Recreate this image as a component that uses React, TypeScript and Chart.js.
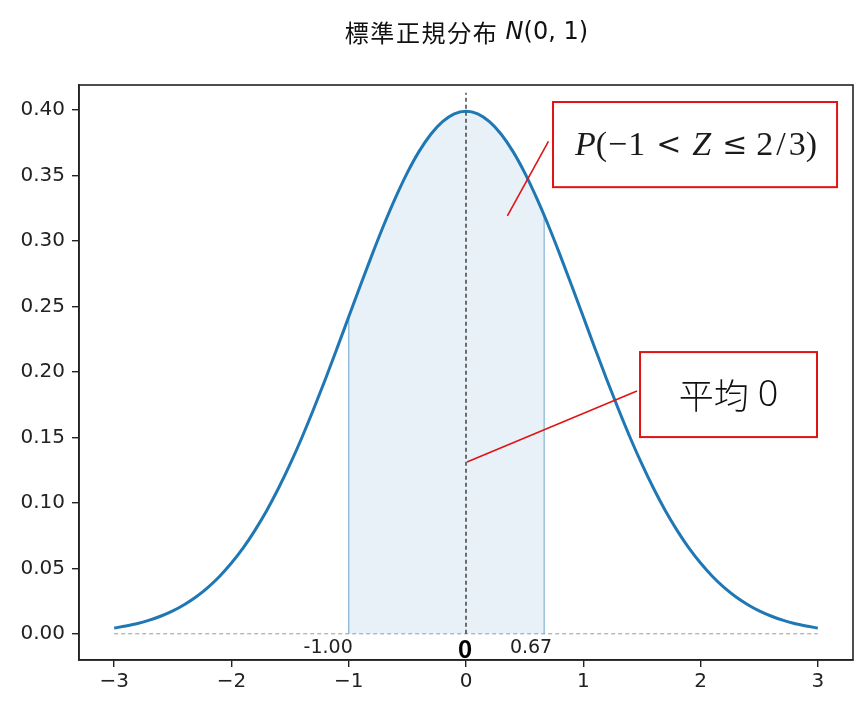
import React, { useEffect, useRef } from "react";
import { Chart, registerables } from "chart.js";

Chart.register(...registerables);

// Standard normal density at steps of 0.1
const curveX = [
  -3.0, -2.9, -2.8, -2.7, -2.6, -2.5, -2.4, -2.3, -2.2, -2.1,
  -2.0, -1.9, -1.8, -1.7, -1.6, -1.5, -1.4, -1.3, -1.2, -1.1,
  -1.0, -0.9, -0.8, -0.7, -0.6, -0.5, -0.4, -0.3, -0.2, -0.1,
  0.0, 0.1, 0.2, 0.3, 0.4, 0.5, 0.6, 0.7, 0.8, 0.9,
  1.0, 1.1, 1.2, 1.3, 1.4, 1.5, 1.6, 1.7, 1.8, 1.9,
  2.0, 2.1, 2.2, 2.3, 2.4, 2.5, 2.6, 2.7, 2.8, 2.9, 3.0,
];
const curveY = [
  0.0044, 0.0060, 0.0079, 0.0104, 0.0136, 0.0175, 0.0224, 0.0283, 0.0355, 0.0440,
  0.0540, 0.0656, 0.0790, 0.0940, 0.1109, 0.1295, 0.1497, 0.1714, 0.1942, 0.2179,
  0.2420, 0.2661, 0.2897, 0.3123, 0.3332, 0.3521, 0.3683, 0.3814, 0.3910, 0.3970,
  0.3989, 0.3970, 0.3910, 0.3814, 0.3683, 0.3521, 0.3332, 0.3123, 0.2897, 0.2661,
  0.2420, 0.2179, 0.1942, 0.1714, 0.1497, 0.1295, 0.1109, 0.0940, 0.0790, 0.0656,
  0.0540, 0.0440, 0.0355, 0.0283, 0.0224, 0.0175, 0.0136, 0.0104, 0.0079, 0.0060, 0.0044,
];

// Shaded interval P(-1 < Z <= 2/3)
const shadeX = [
  -1.0, -1.0, -0.9, -0.8, -0.7, -0.6, -0.5, -0.4, -0.3, -0.2, -0.1,
  0.0, 0.1, 0.2, 0.3, 0.4, 0.5, 0.6, 0.6667, 0.6667,
];
const shadeY = [
  0.0, 0.2420, 0.2661, 0.2897, 0.3123, 0.3332, 0.3521, 0.3683, 0.3814, 0.3910, 0.3970,
  0.3989, 0.3970, 0.3910, 0.3814, 0.3683, 0.3521, 0.3332, 0.3194, 0.0,
];

const baselineX = [-3, 3];
const baselineY = [0, 0];
const meanLineX = [0, 0];
const meanLineY = [0, 0.413];

const xTicks = [-3, -2, -1, 0, 1, 2, 3];
const yTicks = [0.0, 0.05, 0.1, 0.15, 0.2, 0.25, 0.3, 0.35, 0.4];

const boundLabels = ["-1.00", "0.67"];
const boundValues = [-1, 0.6667];

const titleParts = ["標準正規分布", "N", "(0, 1)"];
const meanLabel = "平均 0";

const zip = (xs: number[], ys: number[]) => xs.map((x, i) => ({ x, y: ys[i] }));

const RED = "#e01414";

const overlayPlugin = {
  id: "overlay",
  afterDraw(chart: any) {
    const { ctx, chartArea, scales } = chart;
    const xs = scales.x;
    const ys = scales.y;
    const px = (v: number) => xs.getPixelForValue(v);
    const py = (v: number) => ys.getPixelForValue(v);
    ctx.save();

    // frame
    ctx.strokeStyle = "#222";
    ctx.lineWidth = 1.6;
    ctx.strokeRect(chartArea.left, chartArea.top, chartArea.right - chartArea.left, chartArea.bottom - chartArea.top);

    // title
    const cx = (chartArea.left + chartArea.right) / 2;
    const fCjk = '24px "Noto Sans CJK JP", "DejaVu Sans", sans-serif';
    const fNorm = '24px "DejaVu Sans", sans-serif';
    const fIt = 'italic 24px "DejaVu Sans", sans-serif';
    const cjkStep = 25.6;
    const cjkW = cjkStep * titleParts[0].length;
    const gap = 8;
    ctx.font = fNorm;
    const w2 = ctx.measureText(titleParts[2]).width;
    ctx.font = fIt;
    const w1 = ctx.measureText(titleParts[1]).width;
    let tx = cx - (cjkW + gap + w1 + w2) / 2;
    ctx.fillStyle = "#111";
    ctx.textBaseline = "middle";
    ctx.textAlign = "center";
    ctx.font = fCjk;
    Array.from(titleParts[0]).forEach((ch, i) => {
      ctx.fillText(ch, tx + cjkStep * i + cjkStep / 2, 33);
    });
    tx += cjkW + gap;
    ctx.textAlign = "left";
    ctx.font = fIt;
    ctx.fillText(titleParts[1], tx, 33);
    tx += w1;
    ctx.font = fNorm;
    ctx.fillText(titleParts[2], tx, 33);

    // bound labels under the shaded region
    const y0 = py(0);
    ctx.fillStyle = "#222";
    ctx.font = '19px "DejaVu Sans", sans-serif';
    ctx.textAlign = "right";
    ctx.textBaseline = "middle";
    ctx.fillText(boundLabels[0], px(boundValues[0]) + 4, y0 + 14);
    ctx.fillText(boundLabels[1], px(boundValues[1]) + 8, y0 + 14);
    ctx.font = 'bold 24px "Noto Sans CJK JP", "DejaVu Sans", sans-serif';
    ctx.textAlign = "center";
    ctx.fillStyle = "#000";
    ctx.fillText("0", px(0) - 1, y0 + 15);

    // annotation 1: probability box
    ctx.strokeStyle = RED;
    ctx.lineWidth = 1.6;
    ctx.beginPath();
    ctx.moveTo(px(0.703), py(0.376));
    ctx.lineTo(px(0.353), py(0.319));
    ctx.stroke();
    ctx.lineWidth = 2;
    const b1x = px(0.742), b1y = py(0.406);
    const b1w = px(3.164) - b1x, b1h = py(0.341) - b1y;
    ctx.fillStyle = "#fff";
    ctx.fillRect(b1x, b1y, b1w, b1h);
    ctx.strokeRect(b1x, b1y, b1w, b1h);

    const rm = '34px "Liberation Serif", "DejaVu Serif", serif';
    const it = 'italic 34px "Liberation Serif", "DejaVu Serif", serif';
    const rel = '30px "DejaVu Serif", "Liberation Serif", serif';
    const parts = [
      { t: "P", f: it, g: 0 },
      { t: "(", f: rm, g: 1 },
      { t: "\u2212", f: rm, g: 1 },
      { t: "1", f: rm, g: 11 },
      { t: "<", f: rel, g: 11 },
      { t: "Z", f: it, g: 11 },
      { t: "\u2264", f: rel, g: 9 },
      { t: "2", f: rm, g: 3 },
      { t: "/", f: rm, g: 3 },
      { t: "3)", f: rm, g: 0 },
    ];
    let total = 0;
    const widths = parts.map((p) => {
      ctx.font = p.f;
      const w = ctx.measureText(p.t).width;
      total += w + p.g;
      return w;
    });
    let ax = b1x + b1w / 2 - total / 2 + 1;
    const ay = b1y + b1h / 2 + 1;
    ctx.fillStyle = "#1a1a1a";
    ctx.textAlign = "left";
    ctx.textBaseline = "middle";
    parts.forEach((p, i) => {
      ctx.font = p.f;
      ctx.fillText(p.t, ax, p.f === rel ? ay + 1 : ay);
      ax += widths[i] + p.g;
    });

    // annotation 2: mean box
    ctx.strokeStyle = RED;
    ctx.lineWidth = 1.6;
    ctx.beginPath();
    ctx.moveTo(px(1.458), py(0.1853));
    ctx.lineTo(px(0.0085), py(0.1312));
    ctx.stroke();
    ctx.lineWidth = 2;
    const b2x = px(1.484), b2y = py(0.2151);
    const b2w = px(2.993) - b2x, b2h = py(0.1502) - b2y;
    ctx.fillStyle = "#fff";
    ctx.fillRect(b2x, b2y, b2w, b2h);
    ctx.strokeRect(b2x, b2y, b2w, b2h);
    ctx.fillStyle = "#111";
    const [mWord, mNum] = meanLabel.split(" ");
    const fM = '300 35px "Noto Sans CJK JP", sans-serif';
    const fMn = '300 36px "Noto Sans", "Noto Sans CJK JP", sans-serif';
    ctx.font = fM;
    const mw1 = ctx.measureText(mWord).width;
    ctx.font = fMn;
    const mw2 = ctx.measureText(mNum).width;
    const mgap = 9;
    let mx = b2x + b2w / 2 - (mw1 + mgap + mw2) / 2;
    const my = b2y + b2h / 2 + 1;
    ctx.textAlign = "left";
    ctx.font = fM;
    ctx.fillText(mWord, mx, my);
    mx += mw1 + mgap;
    ctx.font = fMn;
    ctx.fillText(mNum, mx, my);

    ctx.restore();
  },
};

export default function App() {
  const ref = useRef<HTMLCanvasElement>(null);

  useEffect(() => {
    document.body.style.margin = "0";
    if (!ref.current) return;
    const tickFont = { family: '"DejaVu Sans", sans-serif', size: 20 };
    const chart = new Chart(ref.current, {
      type: "scatter",
      data: {
        datasets: [
          {
            label: "shade",
            data: zip(shadeX, shadeY),
            showLine: true,
            fill: "origin",
            backgroundColor: "rgba(31,119,180,0.1)",
            borderColor: "rgba(31,119,180,0.5)",
            borderWidth: 1.3,
            pointRadius: 0,
            order: 4,
          },
          {
            label: "baseline",
            data: zip(baselineX, baselineY),
            showLine: true,
            borderColor: "#999",
            borderWidth: 1,
            borderDash: [4, 3],
            pointRadius: 0,
            order: 3,
          },
          {
            label: "mean",
            data: zip(meanLineX, meanLineY),
            showLine: true,
            borderColor: "#000",
            borderWidth: 1.1,
            borderDash: [4, 3],
            pointRadius: 0,
            order: 2,
          },
          {
            label: "pdf",
            data: zip(curveX, curveY),
            showLine: true,
            borderColor: "#1f77b4",
            borderWidth: 3,
            pointRadius: 0,
            cubicInterpolationMode: "monotone",
            order: 1,
          },
        ],
      },
      options: {
        animation: false,
        responsive: false,
        layout: { padding: { top: 85, right: 14, left: 0, bottom: 0 } },
        plugins: {
          legend: { display: false },
          title: { display: false },
          tooltip: { enabled: false },
        },
        scales: {
          x: {
            type: "linear",
            min: -3.3,
            max: 3.3,
            afterBuildTicks: (s: any) => {
              s.ticks = xTicks.map((v) => ({ value: v }));
            },
            afterFit: (s: any) => {
              s.height = 52;
            },
            grid: {
              drawOnChartArea: false,
              drawTicks: true,
              tickLength: 7,
              color: "#222",
              lineWidth: 1.4,
            },
            border: { display: true, color: "#222", width: 1.6 },
            ticks: {
              font: tickFont,
              color: "#222",
              padding: 3,
              maxRotation: 0,
              callback: (v: any) => (v < 0 ? "\u2212" + Math.abs(v) : String(v)),
            },
          },
          y: {
            type: "linear",
            min: -0.02,
            max: 0.419,
            afterBuildTicks: (s: any) => {
              s.ticks = yTicks.map((v) => ({ value: v }));
            },
            afterFit: (s: any) => {
              s.width = 79;
            },
            grid: {
              drawOnChartArea: false,
              drawTicks: true,
              tickLength: 7,
              color: "#222",
              lineWidth: 1.4,
            },
            border: { display: true, color: "#222", width: 1.6 },
            ticks: {
              font: tickFont,
              color: "#222",
              padding: 7,
              callback: (v: any) => Number(v).toFixed(2),
            },
          },
        },
      },
      plugins: [overlayPlugin],
    } as any);
    return () => chart.destroy();
  }, []);

  return (
    <div style={{ position: "absolute", left: 0, top: 0, width: 867, height: 712, background: "#fff" }}>
      <canvas ref={ref} width={867} height={712} style={{ width: 867, height: 712 }} />
    </div>
  );
}
